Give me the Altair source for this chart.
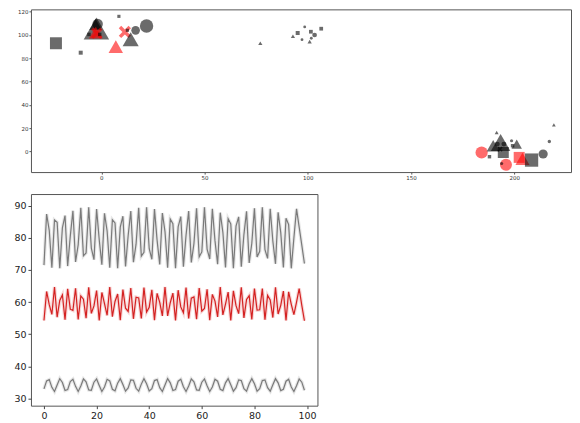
import altair as alt
import pandas as pd

# ---------------- scatter (top panel) ----------------
sc_x = [-22.0, -10.0, 8.5, -1.8, -2.4, -2.8, -2.7, -2.2, -6.0, -0.8, 7.0, 11.4, 12.6, 14.2, 16.6, 21.9,
        92.8, 95.1, 98.5, 97.2, 101.5, 103.3, 101.7, 100.9, 106.5, 77.0,
        184.2, 196.0, 202.4, 204.0, 208.4, 214.0, 194.7, 193.4, 189.8, 201.2, 191.5, 198.7, 217.0, 219.2,
        188.0, 193.9, 191.8, 195.0, 193.1, 199.2]
sc_y = [92.9, 84.8, 116.0, 109.4, 105.5, 109.0, 102.0, 101.5, 100.5, 100.5, 90.0, 102.6, 104.0, 96.3, 104.0, 107.7,
        98.9, 101.7, 106.9, 96.0, 102.8, 100.0, 97.2, 94.3, 105.4, 92.9,
        -0.9, -11.4, -5.1, -6.3, -7.4, -2.2, -0.9, 7.7, 4.9, 6.3, 16.3, 9.2, 8.6, 22.9,
        -4.5, -10.3, 6.3, 6.3, 2.0, 4.9]
sc_shape = ["square", "square", "square", "circle", "triangle", "triangle", "triangle", "x", "square", "square",
            "triangle", "x", "square", "triangle", "circle", "circle",
            "triangle", "square", "circle", "circle", "square", "circle", "circle", "triangle", "square", "triangle",
            "circle", "circle", "square", "triangle", "square", "circle", "square", "triangle", "triangle",
            "triangle", "triangle", "circle", "circle", "triangle",
            "square", "circle", "circle", "circle", "x", "square"]
sc_size = [144, 16, 10, 110, 650, 160, 190, 130, 12, 12, 210, 150, 10, 260, 75, 180,
           18, 16, 8, 8, 14, 22, 8, 18, 14, 18,
           150, 144, 121, 200, 177, 85, 121, 380, 170, 110, 16, 10, 12, 14,
           12, 10, 25, 25, 30, 12]
sc_color = ["gray", "gray", "gray", "gray", "gray", "gray", "red", "red", "gray", "gray",
            "red", "red", "gray", "gray", "gray", "gray",
            "gray", "gray", "gray", "gray", "gray", "gray", "gray", "gray", "gray", "gray",
            "red", "red", "red", "red", "gray", "gray", "gray", "gray", "gray", "gray", "gray", "gray",
            "gray", "gray", "gray", "gray", "gray", "gray", "gray", "gray"]

# ---------------- lines (bottom panel) ----------------
gray_top = [71.5, 87.4, 82.3, 70.7, 85.5, 84.8, 70.5, 83.1, 86.9, 71.2,
            80.5, 88.4, 72.5, 77.8, 89.3, 74.4, 75.3, 89.5, 76.8, 73.2,
            88.9, 79.4, 71.6, 87.6, 82.1, 70.7, 85.6, 84.6, 70.5, 83.3,
            86.7, 71.1, 80.7, 88.3, 72.4, 78.0, 89.3, 74.3, 75.5, 89.5,
            76.6, 73.3, 88.9, 79.2, 71.7, 87.7, 81.9, 70.7, 85.8, 84.4,
            70.5, 83.4, 86.6, 71.0, 80.8, 88.3, 72.3, 78.2, 89.2, 74.1,
            75.6, 89.5, 76.5, 73.4, 89.0, 79.1, 71.8, 87.8, 81.7, 70.8,
            85.9, 84.3, 70.5, 83.6, 86.5, 71.0, 81.0, 88.2, 72.2, 78.3,
            89.2, 74.0, 75.8, 89.5, 76.3, 73.6, 89.0, 78.9, 71.9, 87.9,
            81.6, 70.8, 86.1, 84.1, 70.5, 80.0, 89.0, 83.3, 77.7, 72.0]
red_mid = [54.3, 63.3, 59.2, 56.2, 64.7, 55.3, 60.5, 62.2, 54.5, 64.1,
           57.8, 57.4, 64.3, 54.6, 61.9, 60.9, 55.0, 64.6, 56.5, 58.8,
           63.6, 54.3, 63.0, 59.5, 55.9, 64.7, 55.5, 60.2, 62.5, 54.4,
           63.9, 58.1, 57.1, 64.4, 54.8, 61.5, 61.3, 54.9, 64.5, 56.9,
           58.4, 63.8, 54.4, 62.7, 59.9, 55.7, 64.7, 55.7, 59.8, 62.8,
           54.3, 63.7, 58.5, 56.7, 64.5, 54.9, 61.2, 61.6, 54.7, 64.4,
           57.2, 58.0, 64.0, 54.4, 62.4, 60.3, 55.4, 64.7, 56.0, 59.4,
           63.1, 54.3, 63.5, 58.9, 56.4, 64.6, 55.1, 60.8, 62.0, 54.6,
           64.2, 57.5, 57.6, 64.2, 54.5, 62.1, 60.7, 55.2, 64.6, 56.3,
           59.0, 63.4, 54.3, 63.2, 59.3, 56.1, 60.0, 64.2, 59.0, 54.2]
gray_low = [33.0, 35.5, 35.9, 33.5, 32.2, 34.2, 36.2, 35.0, 32.5, 32.8,
            35.3, 36.0, 33.8, 32.2, 33.9, 36.1, 35.2, 32.7, 32.6, 35.1,
            36.1, 34.1, 32.2, 33.6, 36.0, 35.5, 32.9, 32.4, 34.8, 36.2,
            34.4, 32.3, 33.3, 35.8, 35.7, 33.2, 32.3, 34.5, 36.2, 34.6,
            32.4, 33.1, 35.6, 35.9, 33.4, 32.2, 34.2, 36.2, 34.9, 32.5,
            32.8, 35.4, 36.0, 33.7, 32.2, 33.9, 36.1, 35.2, 32.7, 32.6,
            35.1, 36.1, 34.0, 32.2, 33.6, 36.0, 35.4, 32.9, 32.5, 34.9,
            36.2, 34.3, 32.3, 33.4, 35.8, 35.6, 33.1, 32.3, 34.6, 36.2,
            34.6, 32.3, 33.1, 35.6, 35.8, 33.4, 32.3, 34.3, 36.2, 34.9,
            32.5, 32.9, 35.4, 36.0, 33.6, 32.2, 34.0, 36.1, 35.1, 32.6]

FONT = "DejaVu Sans"
X_PATH = "M-1,-0.6L-0.6,-1L0,-0.4L0.6,-1L1,-0.6L0.4,0L1,0.6L0.6,1L0,0.4L-0.6,1L-1,0.6L-0.4,0Z"

sc_df = pd.DataFrame({"x": sc_x, "y": sc_y, "shape": sc_shape, "size": sc_size, "color": sc_color})

top = alt.Chart(sc_df).mark_point(filled=True, opacity=0.58, strokeWidth=0).encode(
    x=alt.X("x:Q", scale=alt.Scale(domain=[-34.1, 227.5], nice=False, zero=False),
            axis=alt.Axis(values=[0, 50, 100, 150, 200], title=None, grid=False, domain=False,
                          labelFontSize=5.5, labelFont=FONT, labelColor="#333", tickSize=2,
                          tickColor="#555", labelPadding=1)),
    y=alt.Y("y:Q", scale=alt.Scale(domain=[-17.7, 122], nice=False, zero=False),
            axis=alt.Axis(values=[0, 20, 40, 60, 80, 100, 120], title=None, grid=False, domain=False,
                          labelFontSize=5.5, labelFont=FONT, labelColor="#333", tickSize=2,
                          tickColor="#555", labelPadding=1)),
    shape=alt.Shape("shape:N", scale=alt.Scale(domain=["circle", "square", "triangle", "x"],
                                                range=["circle", "square", "triangle-up", X_PATH]),
                    legend=None),
    size=alt.Size("size:Q", scale=None, legend=None),
    color=alt.Color("color:N", scale=alt.Scale(domain=["gray", "red"], range=["#000000", "#ff0000"]),
                    legend=None),
).properties(width=541, height=163)

n = len(gray_top)
line_df = pd.DataFrame({
    "x": list(range(n)) * 3,
    "v": gray_top + red_mid + gray_low,
    "s": ["top"] * n + ["mid"] * n + ["low"] * n,
})

xb = alt.X("x:Q", scale=alt.Scale(domain=[-4.95, 103.95], nice=False, zero=False),
           axis=alt.Axis(values=[0, 20, 40, 60, 80, 100], title=None, grid=False, domain=False,
                         labelFontSize=9.5, labelFont=FONT, labelColor="#222", tickSize=3,
                         tickColor="#444", labelPadding=1.5))
yb = alt.Y("v:Q", scale=alt.Scale(domain=[27.8, 93.6], nice=False, zero=False),
           axis=alt.Axis(values=[30, 40, 50, 60, 70, 80, 90], title=None, grid=False, domain=False,
                         labelFontSize=9.5, labelFont=FONT, labelColor="#222", tickSize=3,
                         tickColor="#444", labelPadding=2))
cb = alt.Color("s:N", scale=alt.Scale(domain=["top", "mid", "low"],
                                      range=["#7a7a7a", "#d42222", "#7a7a7a"]),
               legend=None)

halo = alt.Chart(line_df).mark_line(strokeWidth=3.5, opacity=0.18).encode(x=xb, y=yb, color=cb, detail="s:N")
core = alt.Chart(line_df).mark_line(strokeWidth=1.2).encode(x=xb, y=yb, color=cb, detail="s:N")
bottom = alt.layer(halo, core).properties(width=287, height=212)

chart = alt.vconcat(top, bottom, spacing=22, bounds="flush").resolve_scale(
    color="independent", shape="independent", size="independent"
).properties(
    padding={"left": 5, "top": 0, "right": 0, "bottom": 0}
).configure_view(stroke="#555", strokeWidth=1)

chart.save("out.html", embed_options={"renderer": "svg", "actions": False})
